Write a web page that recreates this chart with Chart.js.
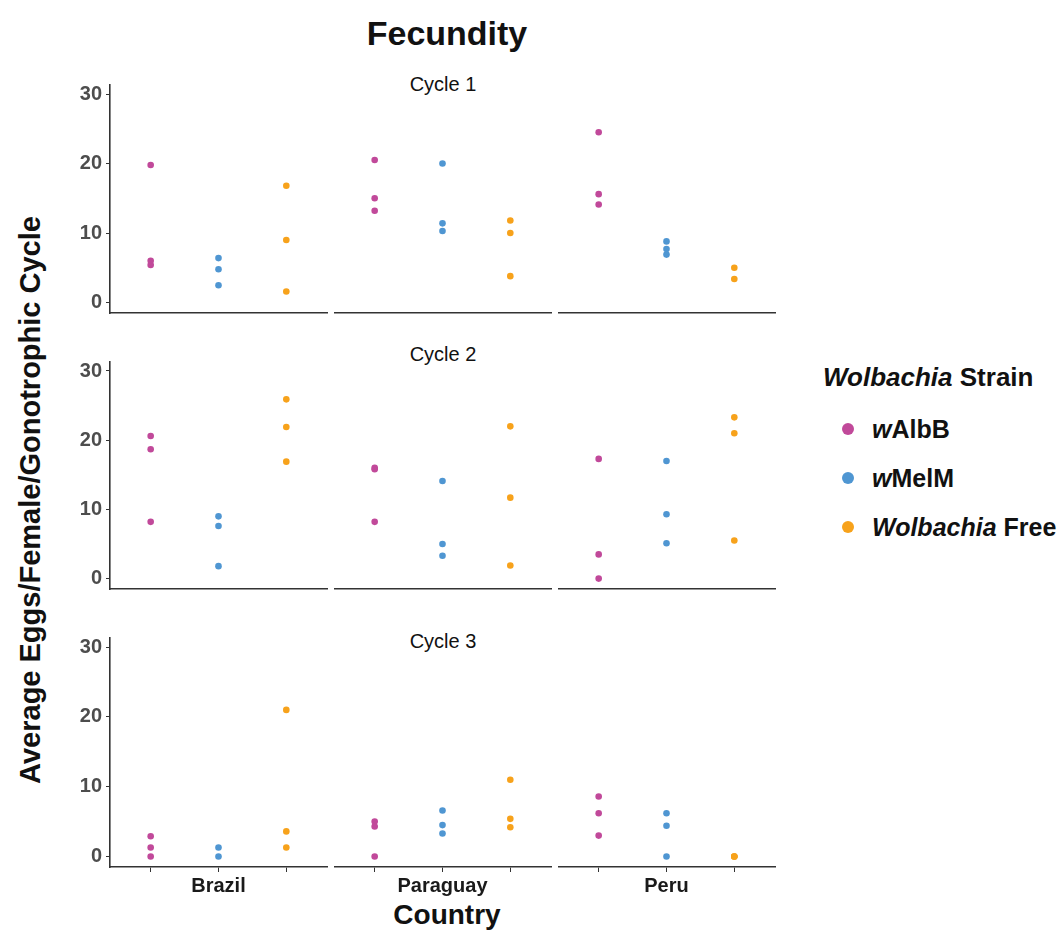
<!DOCTYPE html>
<html>
<head>
<meta charset="utf-8">
<script src="https://cdn.jsdelivr.net/npm/chart.js@4.4.1/dist/chart.umd.min.js"></script>
<style>
  body { margin: 0; background: #fff; font-family: "Liberation Sans", Arial, sans-serif; }
  #wrap { position: relative; width: 1063px; height: 932px; overflow: hidden; }
  canvas { position: absolute; }
  .lbl { position: absolute; transform: translate(-50%, -50%); line-height: 1; white-space: nowrap; color: #111; }
  .lft { position: absolute; transform: translateY(-50%); line-height: 1; white-space: nowrap; color: #111; font-weight: bold; }
  .dot { position: absolute; width: 12px; height: 12px; border-radius: 50%; transform: translate(-50%, -50%); }
</style>
</head>
<body>
<div id="wrap">
  <div class="lbl" style="left:447px;top:33px;font-size:34px;font-weight:bold;">Fecundity</div>
  <div class="lbl" style="left:30px;top:500px;font-size:29px;font-weight:bold;transform:translate(-50%,-50%) rotate(-90deg);">Average Eggs/Female/Gonotrophic Cycle</div>
  <div class="lbl" style="left:447px;top:915px;font-size:28px;font-weight:bold;">Country</div>
  <div class="lft" style="left:823px;top:377px;font-size:26px;"><i>Wolbachia</i> Strain</div>
</div>
<script>
// categories
const countries = ["Brazil", "Paraguay", "Peru"];
const cycles = ["Cycle 1", "Cycle 2", "Cycle 3"];
const strains = ["wAlbB", "wMelM", "Wolbachia Free"];
const strainColors = ["#c1499a", "#4f96d2", "#f7a21b"];
const yTicks = [0, 10, 20, 30];

// average eggs per female, indexed [cycle][country] -> replicate values
const wAlbB = [
  [[19.8, 6.0, 5.4], [20.5, 15.0, 13.2], [24.5, 15.6, 14.1]],
  [[20.6, 18.7, 8.2], [16.0, 15.8, 8.2], [17.3, 3.5, 0]],
  [[2.9, 1.3, 0], [5.0, 4.3, 0], [8.6, 6.2, 3.0]]
];
const wMelM = [
  [[6.4, 4.8, 2.5], [20.0, 11.4, 10.3], [8.8, 7.7, 6.9]],
  [[9.0, 7.6, 1.8], [14.1, 5.0, 3.3], [17.0, 9.3, 5.1]],
  [[1.3, 0], [6.6, 4.5, 3.3], [6.2, 4.4, 0]]
];
const wolFree = [
  [[16.8, 9.0, 1.6], [11.8, 10.0, 3.8], [5.0, 3.4]],
  [[25.9, 21.9, 16.9], [22.0, 11.7, 1.9], [23.3, 21.0, 5.5]],
  [[21.0, 3.6, 1.3], [11.0, 5.4, 4.2], [0, 0, 0]]
];
const seriesByStrain = [wAlbB, wMelM, wolFree];

// panel geometry
const colLeft = [110, 334, 558];
const colW = 217;
const rowTop = [85, 362, 638];
const rowH = [228, 227, 229];
const yAxisW = 60;
const topPad = 8;
const font = '"Liberation Sans", Arial, sans-serif';

const wrap = document.getElementById("wrap");

// strip labels above middle column
cycles.forEach((c, r) => {
  const d = document.createElement("div");
  d.className = "lbl";
  d.style.cssText = `left:443px;top:${[84, 354, 641][r]}px;font-size:20px;`;
  d.textContent = c;
  wrap.appendChild(d);
});

// legend
const legendY = [429, 478, 527];
const legendHtml = ["<i>w</i>AlbB", "<i>w</i>MelM", "<i>Wolbachia</i> Free"];
strains.forEach((s, i) => {
  const dot = document.createElement("div");
  dot.className = "dot";
  dot.style.cssText = `left:848px;top:${legendY[i]}px;background:${strainColors[i]};`;
  wrap.appendChild(dot);
  const t = document.createElement("div");
  t.className = "lft";
  t.style.cssText = `left:872px;top:${legendY[i]}px;font-size:25px;`;
  t.innerHTML = legendHtml[i];
  wrap.appendChild(t);
});

function makePanel(r, c) {
  const showY = c === 0;
  const showX = r === 2;
  const xH = showX ? 40 : 2;
  const left = colLeft[c] - (showY ? yAxisW : 0);
  const w = colW + (showY ? yAxisW : 0) + 2;
  const h = rowH[r] + topPad + xH;

  const cv = document.createElement("canvas");
  cv.width = w;
  cv.height = h;
  cv.style.left = left + "px";
  cv.style.top = (rowTop[r] - topPad) + "px";
  wrap.appendChild(cv);

  const datasets = strains.map((s, si) => ({
    label: s,
    data: seriesByStrain[si][r][c].map(v => ({ x: si + 1, y: v })),
    backgroundColor: strainColors[si],
    pointRadius: 3.3,
    pointBorderWidth: 0,
    clip: 6
  }));

  new Chart(cv.getContext("2d"), {
    type: "scatter",
    data: { datasets },
    options: {
      responsive: false,
      animation: false,
      devicePixelRatio: 1,
      layout: { autoPadding: false, padding: { top: topPad, right: 2, left: 0, bottom: 0 } },
      plugins: { legend: { display: false }, tooltip: { enabled: false } },
      scales: {
        x: {
          type: "linear",
          min: 0.4,
          max: 3.6,
          afterBuildTicks: (s) => { s.ticks = [1, 2, 3].map(v => ({ value: v })); },
          afterFit: (s) => {
            s.height = xH;
            s.paddingLeft = 0;
            s.paddingRight = 0;
          },
          grid: { display: showX, drawOnChartArea: false, drawTicks: true, tickLength: 5, color: "#333", lineWidth: 1 },
          border: { display: true, color: "#333", width: 1.6 },
          ticks: {
            display: showX,
            padding: 2,
            maxRotation: 0,
            minRotation: 0,
            autoSkip: false,
            color: "#1a1a1a",
            font: { family: font, size: 20, weight: "bold" },
            callback: (v) => (v === 2 ? countries[c] : "")
          }
        },
        y: {
          display: showY,
          min: -1.5,
          max: 31.3,
          afterBuildTicks: (s) => { s.ticks = yTicks.map(v => ({ value: v })); },
          afterFit: (s) => {
            if (showY) s.width = yAxisW;
            s.paddingTop = 0;
            s.paddingBottom = 0;
          },
          grid: { drawOnChartArea: false, drawTicks: true, tickLength: 4, color: "#333", lineWidth: 1 },
          border: { display: true, color: "#333", width: 1.6 },
          ticks: {
            padding: 4,
            color: "#4d4d4d",
            font: { family: font, size: 20, weight: "bold" }
          }
        }
      }
    }
  });
}

for (let r = 0; r < 3; r++) {
  for (let c = 0; c < 3; c++) makePanel(r, c);
}
</script>
</body>
</html>
